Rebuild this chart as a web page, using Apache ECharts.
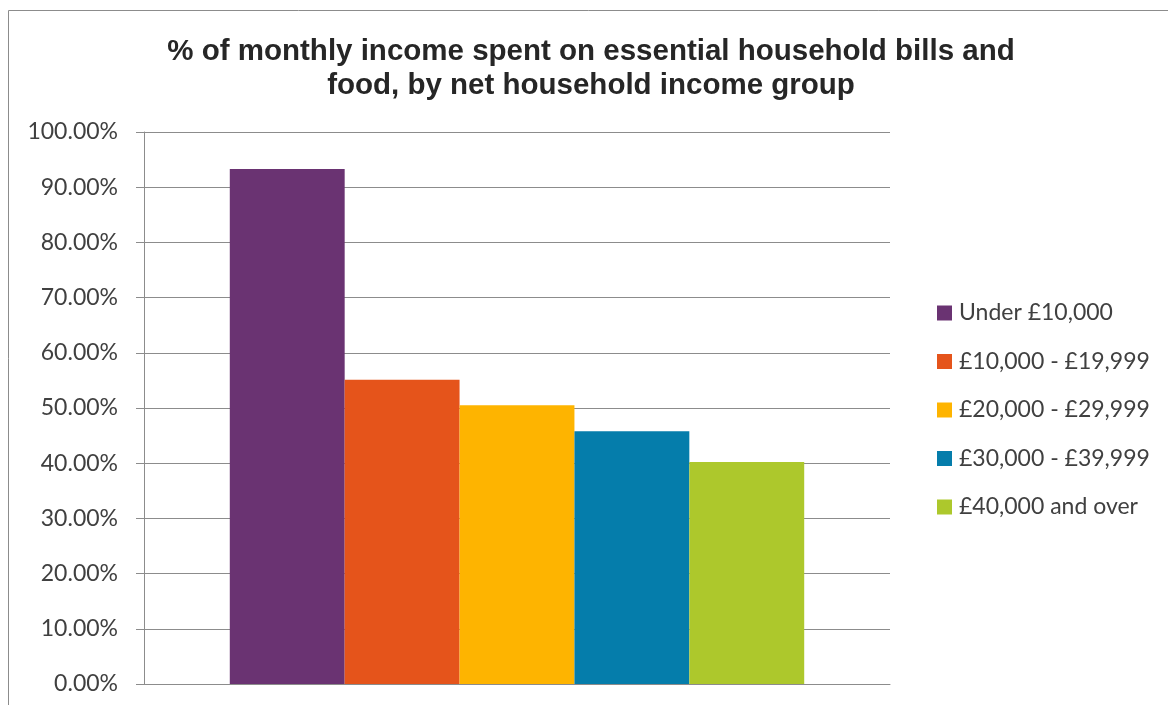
<!DOCTYPE html>
<html>
<head>
<meta charset="utf-8">
<script src="https://cdn.jsdelivr.net/npm/echarts@6.0.0/dist/echarts.min.js"></script>
<style>
  html, body { margin: 0; padding: 0; background: #fff; }
  #chart { width: 1168px; height: 705px; }
</style>
</head>
<body>
<div id="chart"></div>
<script>
// data
const categories = ["% of monthly income"];
const groups = ["Under £10,000", "£10,000 - £19,999", "£20,000 - £29,999", "£30,000 - £39,999", "£40,000 and over"];
const shares = [93.3, 55.1, 50.5, 45.8, 40.2];
const colors = ["#6a3372", "#e5541b", "#feb400", "#057dab", "#adc82c"];

const chart = echarts.init(document.getElementById("chart"));

const series = groups.map((name, i) => ({
    name: name,
    type: "bar",
    data: [shares[i]],
    itemStyle: { color: colors[i] },
    barGap: "0%",
    barCategoryGap: "23%"
}));

chart.setOption({
    animation: false,
    title: {
        text: "% of monthly income spent on essential household bills and\nfood, by net household income group",
        left: 586,
        top: 30,
        textAlign: "center",
        textStyle: {
            fontFamily: "Liberation Sans",
            fontWeight: "bold",
            fontSize: 29.5,
            lineHeight: 34,
            color: "#262626"
        }
    },
    legend: {
        orient: "vertical",
        left: 932,
        top: 296,
        itemWidth: 15,
        itemHeight: 15,
        itemGap: 24.5,
        icon: "rect",
        textStyle: { fontFamily: "Lato", fontSize: 23, lineHeight: 24, color: "#404040", padding: [0, 0, 0, 2] },
        data: groups
    },
    grid: { left: 144, right: 278, top: 132, bottom: 21, containLabel: false },
    xAxis: {
        type: "category",
        data: categories,
        axisLine: { lineStyle: { color: "#8c8c8c", width: 1 } },
        axisTick: { show: false },
        axisLabel: { show: false }
    },
    yAxis: {
        type: "value",
        min: 0,
        max: 100,
        interval: 10,
        axisLine: { show: true, lineStyle: { color: "#8c8c8c", width: 1 } },
        axisTick: { show: true, length: 8, lineStyle: { color: "#8c8c8c" } },
        splitLine: { lineStyle: { color: "#8c8c8c", width: 1 } },
        axisLabel: {
            margin: 26,
            fontFamily: "Lato",
            fontSize: 23,
            color: "#404040",
            formatter: v => v.toFixed(2) + "%"
        }
    },
    graphic: [{
        type: "rect",
        shape: { x: 8.5, y: 10.5, width: 1300, height: 900 },
        style: { fill: "none", stroke: "#8c8c8c", lineWidth: 1 },
        silent: true,
        z: -1
    }],
    series: series
});
</script>
</body>
</html>
